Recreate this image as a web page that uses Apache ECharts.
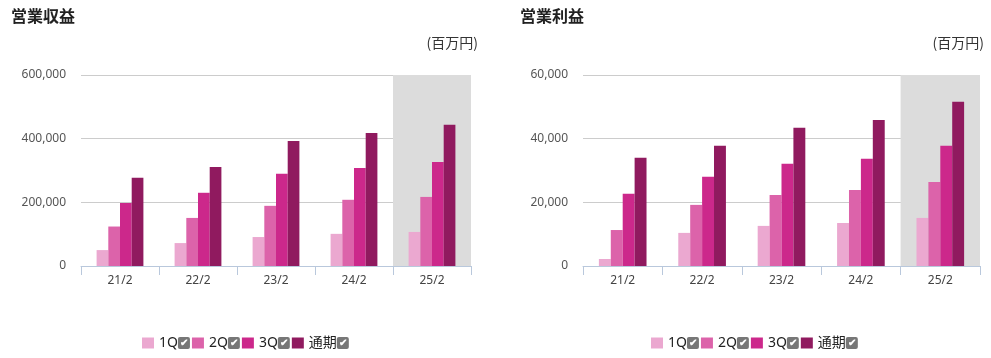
<!DOCTYPE html>
<html><head><meta charset="utf-8">
<script src="https://cdn.jsdelivr.net/npm/echarts@6/dist/echarts.min.js"></script>
<style>html,body{margin:0;padding:0;background:#fff}#c{width:991px;height:358px}</style>
</head><body><div id="c"></div>
<script>
const categories = ['21/2','22/2','23/2','24/2','25/2'];
const seriesNames = ['1Q','2Q','3Q','通期'];
const revenue1Q = [50000, 72000, 91000, 101000, 107000];
const revenue2Q = [124000, 151000, 189000, 208000, 217000];
const revenue3Q = [198000, 230000, 290000, 308000, 327000];
const revenueFY = [277000, 311000, 393000, 418000, 444000];
const profit1Q = [2200, 10400, 12600, 13500, 15100];
const profit2Q = [11300, 19200, 22300, 23900, 26400];
const profit3Q = [22700, 28000, 32100, 33700, 37800];
const profitFY = [34000, 37800, 43400, 45900, 51600];
const revenueTicks = [0, 200000, 400000, 600000];
const profitTicks = [0, 20000, 40000, 60000];
const highlighted = '25/2';

const colors = ['#eba8d0', '#dc63aa', '#cc288b', '#901a5f'];
const font = '"Noto Sans", "Noto Sans CJK JP", sans-serif';
const cjk = '"Noto Sans CJK JP", sans-serif';
const chart = echarts.init(document.getElementById('c'));

function xAxis(gi) {
  return {
    type: 'category', gridIndex: gi, data: categories,
    axisLine: {lineStyle: {color: '#b9c8dc', width: 1}},
    axisTick: {show: true, length: 9, lineStyle: {color: '#b9c8dc'}},
    axisLabel: {color: '#444', fontSize: 12, fontFamily: font, margin: 9},
    splitArea: {show: true, areaStyle: {color: categories.map(c => c === highlighted ? '#dcdcdc' : 'rgba(0,0,0,0)')}}
  };
}
function yAxis(gi, ticks) {
  return {
    type: 'value', gridIndex: gi, min: ticks[0], max: ticks[ticks.length - 1],
    interval: ticks[1] - ticks[0],
    axisLine: {show: false}, axisTick: {show: false},
    axisLabel: {color: '#555', fontSize: 12, fontFamily: font, margin: 15,
      formatter: v => v.toLocaleString('en-US')},
    splitLine: {lineStyle: {color: '#cccccc', width: 1}}
  };
}
function bars(gi, arrays) {
  return arrays.map((d, i) => ({
    type: 'bar', name: seriesNames[i], xAxisIndex: gi, yAxisIndex: gi, data: d,
    itemStyle: {color: colors[i]}, barGap: '0%', barCategoryGap: '40%',
    emphasis: {disabled: true}, z: 3
  }));
}
function legend(left) {
  return {
    left: left, top: 331, itemWidth: 12, itemHeight: 11, itemGap: 2, icon: 'rect',
    data: seriesNames, padding: 5,
    formatter: n => '{n|' + n + '}{c|✔}',
    textStyle: {
      padding: [0, 0, 0, 0],
      rich: {
        n: {fontSize: 14, color: '#222', fontFamily: font},
        c: {backgroundColor: '#777', color: '#fff', fontSize: 10, width: 12, height: 12,
            lineHeight: 12, align: 'center', borderRadius: 2, fontWeight: 'bold', padding: [0, 0, 0, 0]}
      }
    }
  };
}

chart.setOption({
  animation: false,
  color: colors,
  title: [
    {text: '営業収益', left: 6, top: 3, textStyle: {fontSize: 16, fontWeight: 'bold', color: '#222', fontFamily: cjk}},
    {text: '営業利益', left: 515, top: 3, textStyle: {fontSize: 16, fontWeight: 'bold', color: '#222', fontFamily: cjk}},
    {text: '(百万円)', right: 508, top: 31, textStyle: {fontSize: 14, fontWeight: 'normal', color: '#333', fontFamily: cjk}},
    {text: '(百万円)', right: 2, top: 31, textStyle: {fontSize: 14, fontWeight: 'normal', color: '#333', fontFamily: cjk}}
  ],
  grid: [
    {left: 81, right: 520, top: 75, bottom: 92},
    {left: 583, right: 11, top: 75, bottom: 92}
  ],
  xAxis: [xAxis(0), xAxis(1)],
  yAxis: [yAxis(0, revenueTicks), yAxis(1, profitTicks)],
  legend: [legend(137), legend(646)],
  series: [
    ...bars(0, [revenue1Q, revenue2Q, revenue3Q, revenueFY]),
    ...bars(1, [profit1Q, profit2Q, profit3Q, profitFY])
  ]
});
</script></body></html>
